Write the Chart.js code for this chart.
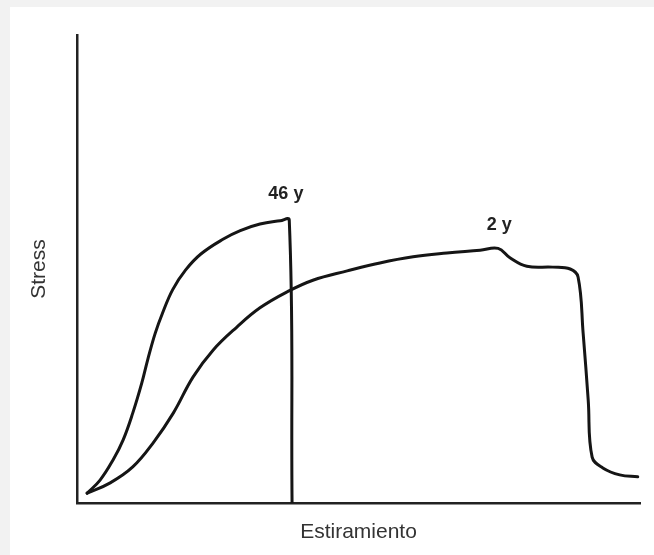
<!DOCTYPE html>
<html>
<head>
<meta charset="utf-8">
<script src="https://cdn.jsdelivr.net/npm/chart.js@4.4.1/dist/chart.umd.min.js"></script>
<style>
  html, body { margin: 0; padding: 0; background: #f2f2f2; }
  #wrap { position: absolute; left: 10px; top: 7px; width: 644px; height: 548px; background: #fff; }
</style>
</head>
<body>
<div id="wrap"><canvas id="stressChart" width="644" height="548"></canvas></div>
<script>
// Stress vs strain, two ages (0-100 arbitrary units)
const x46 = [1.8, 4.1, 6.4, 8.2, 9.9, 11.5, 12.6, 13.9, 15.2, 17.0, 19.3, 22.0, 26.0, 29.0, 32.5, 36.1, 37.7, 38.2];
const y46 = [2.1, 4.9, 9.2, 13.5, 19.2, 25.6, 30.8, 36.3, 40.6, 45.6, 49.8, 53.2, 56.4, 58.2, 59.6, 60.3, 60.5, 0];

const x2 = [1.8, 5.9, 9.9, 13.5, 17.1, 20.6, 24.2, 28.4, 32.5, 37.3, 41.9, 48.0, 53.8, 59.7, 65.7, 71.6, 74.8,
            76.9, 79.9, 84.5, 87.6, 89.0, 89.9, 90.8, 91.5, 93.4, 96.4, 99.6];
const y2 = [2.1, 4.3, 7.7, 12.8, 19.2, 26.9, 32.7, 37.6, 41.7, 45.1, 47.6, 49.6, 51.3, 52.6, 53.4, 54.0, 54.4,
            52.4, 50.6, 50.4, 50.0, 48.3, 36.3, 22.0, 9.8, 7.5, 6.0, 5.6];

const curveLabels = ['46 y', '2 y'];
const labelX = [37.1, 75.0];
const labelY = [65.0, 58.3];

const toPoints = (xs, ys) => xs.map((x, i) => ({ x: x, y: ys[i] }));

// draws the "46 y" / "2 y" tags at data positions
const curveTags = {
    id: 'curveTags',
    afterDatasetsDraw(chart) {
        const ctx = chart.ctx;
        const sx = chart.scales.x, sy = chart.scales.y;
        ctx.save();
        ctx.fillStyle = '#222';
        ctx.font = 'bold 18px "Liberation Sans", Arial, sans-serif';
        ctx.textAlign = 'center';
        ctx.textBaseline = 'alphabetic';
        curveLabels.forEach((t, i) => {
            ctx.fillText(t, sx.getPixelForValue(labelX[i]), sy.getPixelForValue(labelY[i]));
        });
        ctx.restore();
    }
};

const lineStyle = {
    borderColor: '#151515',
    borderWidth: 3,
    pointRadius: 0,
    fill: false,
    tension: 0.4,
    borderCapStyle: 'round',
    borderJoinStyle: 'round'
};

new Chart(document.getElementById('stressChart').getContext('2d'), {
    type: 'line',
    data: {
        datasets: [
            Object.assign({ label: '46 y', data: toPoints(x46, y46) }, lineStyle),
            Object.assign({ label: '2 y', data: toPoints(x2, y2) }, lineStyle)
        ]
    },
    options: {
        responsive: false,
        animation: false,
        layout: { padding: { left: 16.4, top: 28, right: 14, bottom: 0 } },
        plugins: { legend: { display: false }, tooltip: { enabled: false } },
        scales: {
            x: {
                type: 'linear', min: 0, max: 100,
                grid: { display: false, drawTicks: false },
                ticks: { display: false },
                border: { display: true, color: '#222', width: 2.5 },
                title: {
                    display: true, text: 'Estiramiento', color: '#333',
                    font: { family: '"Liberation Sans", Arial, sans-serif', size: 21 },
                    padding: { top: 16.4, bottom: 10.4 }
                }
            },
            y: {
                type: 'linear', min: 0, max: 100,
                grid: { display: false, drawTicks: false },
                ticks: { display: false },
                border: { display: true, color: '#222', width: 2.5 },
                title: {
                    display: true, text: 'Stress', color: '#333',
                    font: { family: '"Liberation Sans", Arial, sans-serif', size: 21 },
                    padding: { top: 0, bottom: 25.4 }
                }
            }
        }
    },
    plugins: [curveTags]
});
</script>
</body>
</html>
